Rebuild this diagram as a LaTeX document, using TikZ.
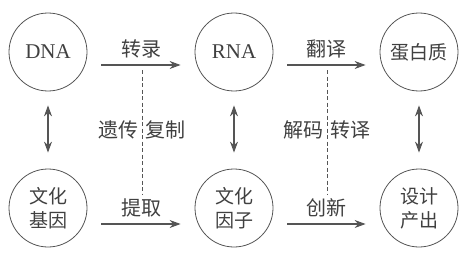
\documentclass[tikz,border=0pt]{standalone}
\usepackage{fontspec}
\usepackage{tikz}
\usetikzlibrary{arrows.meta}
\newfontfamily\cjk{Noto Sans CJK SC}
\setmainfont{Liberation Serif}
\definecolor{linegray}{HTML}{555555}
\definecolor{textgray}{HTML}{404040}
\tikzset{
  ball/.style={circle,draw=linegray,line width=0.8pt,minimum size=78pt,inner sep=0pt,
    align=center,text=textgray,font=\fontsize{19}{24}\selectfont\cjk},
  flow/.style={-{Stealth[length=11pt,width=8pt]},draw=linegray,line width=1.1pt},
  link/.style={{Stealth[length=11pt,width=8pt]}-{Stealth[length=11pt,width=8pt]},draw=linegray,line width=1.1pt},
  tag/.style={text=textgray,font=\fontsize{20}{24}\selectfont\cjk,inner sep=1pt}
}

\begin{document}
\begin{tikzpicture}[x=1pt,y=-1pt]
        \useasboundingbox (0,0) rectangle (465,254);
        \node[ball,font=\fontsize{21}{24}\selectfont] (dna) at (48,52) {DNA};
        \node[ball,font=\fontsize{21}{24}\selectfont] (rna) at (234,52) {RNA};
        \node[ball] (prot) at (419,52) {蛋白质};
        \node[ball] (gene) at (48,208) {文化\\基因};
        \node[ball] (factor) at (234,208) {文化\\因子};
        \node[ball] (design) at (419,208) {设计\\产出};
        % horizontal flows
        \draw[flow,shorten <=14pt,shorten >=14pt] ([yshift=-13pt]dna.east) -- ([yshift=-13pt]rna.west)
            node[tag,midway,above=5pt] {转录};
        \draw[flow,shorten <=14pt,shorten >=14pt] ([yshift=-13pt]rna.east) -- ([yshift=-13pt]prot.west)
            node[tag,midway,above=5pt] {翻译};
        \draw[flow,shorten <=14pt,shorten >=14pt] ([yshift=-16pt]gene.east) -- ([yshift=-16pt]factor.west)
            node[tag,midway,above=5pt] {提取};
        \draw[flow,shorten <=14pt,shorten >=14pt] ([yshift=-16pt]factor.east) -- ([yshift=-16pt]design.west)
            node[tag,midway,above=5pt] {创新};
        % vertical links
        \foreach \a/\b in {dna/gene,rna/factor,prot/design}
            \draw[link,shorten <=14pt,shorten >=16pt] (\a.south) -- (\b.north);
        % dashed separators
        \coordinate (d1top) at (142,70);
        \coordinate (d1bot) at (142,195);
        \coordinate (d2top) at (327,70);
        \coordinate (d2bot) at (327,195);
        \draw[dash pattern=on 4pt off 2.5pt,draw=linegray,line width=0.7pt] (d1top) -- (d1bot);
        \draw[dash pattern=on 4pt off 2.5pt,draw=linegray,line width=0.7pt] (d2top) -- (d2bot);
        \node[tag,anchor=east] (inherit) at (140,130) {遗传};
        \node[tag,anchor=west] (copy) at (144,130) {复制};
        \node[tag,anchor=east] (decode) at (325,130) {解码};
        \node[tag,anchor=west] (transl) at (329,130) {转译};
\end{tikzpicture}
\end{document}
